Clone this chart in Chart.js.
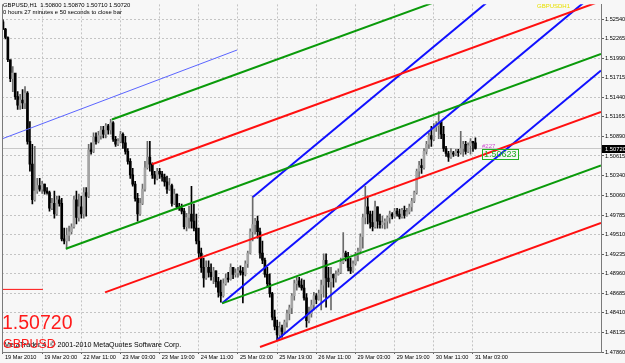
<!DOCTYPE html>
<html lang="en">
<head>
  <meta charset="UTF-8">
  <title>GBPUSD,H1</title>
  <script src="https://cdn.jsdelivr.net/npm/chart.js"></script>
  <style>
    html, body { margin: 0; padding: 0; background: #f7f7f7; }
    #wrap { position: relative; width: 625px; height: 363px; overflow: hidden; background: #f7f7f7; }
    #chart { position: absolute; left: 0; top: 0; }
    .txt { position: absolute; white-space: nowrap; font-family: "Liberation Sans", Arial, sans-serif; line-height: 1; }
    #info1 { left: 3px; top: 3px; font-size: 5.9px; color: #000; }
    #info2 { left: 3px; top: 10px; font-size: 5.9px; color: #000; }
    #bigPrice { left: 2px; top: 313px; font-size: 19.5px; color: #ff1a1a; }
    #symbol { left: 3px; top: 338px; font-size: 12.5px; color: #ff1a1a; }
    #copy { left: 4px; top: 342px; font-size: 7.1px; color: #000; }
    #forkName { left: 537px; top: 3px; font-size: 6px; color: #e8e000; }
    #pinkTag { left: 482px; top: 143px; font-size: 6px; color: #d050d0; }
    #priceTag { left: 482px; top: 149px; font-size: 9px; color: #22b022; border: 1px solid #22b022; padding: 0 1px; }
  </style>
</head>
<body>
<div id="wrap">
  <canvas id="chart" width="625" height="363"></canvas>
  <div class="txt" id="info1">GBPUSD,H1&nbsp; 1.50800 1.50870 1.50710 1.50720</div>
  <div class="txt" id="info2">0 hours 27 minutes e 50 seconds to close bar</div>
  <div class="txt" id="copy">MetaTrader 4, © 2001-2010 MetaQuotes Software Corp.</div>
  <div class="txt" id="bigPrice">1.50720</div>
  <div class="txt" id="symbol">GBPUSD</div>
  <div class="txt" id="forkName">GBPUSDH1</div>
  <div class="txt" id="pinkTag">#227</div>
  <div class="txt" id="priceTag">1.50623</div>
</div>

<script>
  // H1 bars, 19 Mar 2010 04:00 .. 31 Mar 2010 05:00 (x = bar number)
  const firstOpen = 1.5250;
  const highs = [
    1.5253,1.5241,1.5229,1.5196,1.5187,1.5176,1.5152,1.5148,1.5155,1.5159,
    1.5152,1.5110,1.5078,1.5075,1.5030,1.5030,1.5026,1.5022,1.5017,1.5012,
    1.5002,1.5012,1.5005,1.5005,1.5002,1.4960,1.4960,1.4963,1.4966,1.5005,
    1.5012,1.5008,1.5005,1.5017,1.5017,1.5078,1.5080,1.5094,1.5094,1.5096,
    1.5103,1.5103,1.5107,1.5106,1.5113,1.5110,1.5089,1.5086,1.5096,1.5094,
    1.5089,1.5072,1.5058,1.5044,1.5026,1.5009,1.5002,1.5022,1.5054,1.5082,
    1.5082,1.5052,1.5040,1.5044,1.5044,1.5040,1.5036,1.5033,1.5030,1.5022,
    1.5015,1.5008,1.4995,1.4994,1.4988,1.4981,1.4991,1.5019,1.4994,1.4980,
    1.4960,1.4932,1.4918,1.4914,1.4914,1.4910,1.4905,1.4900,1.4891,1.4887,
    1.4889,1.4896,1.4898,1.4910,1.4905,1.4903,1.4905,1.4907,1.4905,1.4914,
    1.4928,1.4959,1.5005,1.4974,1.4977,1.4960,1.4942,1.4918,1.4905,1.4896,
    1.4870,1.4845,1.4831,1.4828,1.4824,1.4831,1.4845,1.4852,1.4868,1.4887,
    1.4891,1.4891,1.4889,1.4887,1.4868,1.4849,1.4859,1.4870,1.4868,1.4873,
    1.4887,1.4924,1.4924,1.4905,1.4905,1.4896,1.4900,1.4903,1.4918,1.4954,
    1.4928,1.4926,1.4918,1.4914,1.4926,1.4932,1.4952,1.4980,1.5019,1.5005,
    1.4984,1.4984,1.4998,1.4990,1.4980,1.4977,1.4973,1.4977,1.4984,1.4982,
    1.4988,1.4988,1.4987,1.4988,1.4991,1.4988,1.4994,1.5002,1.5012,1.5043,
    1.5054,1.5057,1.5072,1.5082,1.5094,1.5103,1.5107,1.5110,1.5124,1.5110,
    1.5103,1.5075,1.5068,1.5072,1.5068,1.5071,1.5071,1.5096,1.5082,1.5082,
    1.5080,1.5086,1.5082,1.5087
  ];
  const lows = [
    1.5239,1.5226,1.5194,1.5166,1.5152,1.5141,1.5127,1.5127,1.5128,1.5128,
    1.5078,1.5040,1.4994,1.4998,1.5009,1.5012,1.5009,1.5008,1.5008,1.4984,
    1.4986,1.4974,1.4978,1.4991,1.4942,1.4938,1.4931,1.4942,1.4952,1.4960,
    1.4966,1.4970,1.4974,1.4974,1.4977,1.5003,1.5064,1.5066,1.5078,1.5080,
    1.5085,1.5087,1.5087,1.5092,1.5092,1.5082,1.5075,1.5076,1.5080,1.5072,
    1.5064,1.5050,1.5030,1.5019,1.4998,1.4970,1.4978,1.4993,1.5012,1.5043,
    1.5040,1.5030,1.5022,1.5028,1.5030,1.5026,1.5019,1.5009,1.5013,1.4991,
    1.4993,1.4987,1.4985,1.4980,1.4959,1.4956,1.4960,1.4960,1.4956,1.4938,
    1.4918,1.4898,1.4877,1.4888,1.4891,1.4887,1.4882,1.4877,1.4863,1.4856,
    1.4863,1.4880,1.4884,1.4887,1.4889,1.4891,1.4891,1.4894,1.4855,1.4893,
    1.4905,1.4924,1.4942,1.4952,1.4946,1.4918,1.4910,1.4891,1.4877,1.4863,
    1.4831,1.4817,1.4803,1.4808,1.4807,1.4813,1.4821,1.4831,1.4840,1.4859,
    1.4873,1.4877,1.4873,1.4859,1.4821,1.4827,1.4835,1.4845,1.4854,1.4859,
    1.4845,1.4863,1.4849,1.4877,1.4845,1.4877,1.4884,1.4894,1.4896,1.4910,
    1.4914,1.4900,1.4896,1.4898,1.4908,1.4914,1.4924,1.4932,1.4966,1.4966,
    1.4960,1.4956,1.4960,1.4960,1.4960,1.4960,1.4959,1.4960,1.4967,1.4973,
    1.4974,1.4977,1.4973,1.4974,1.4974,1.4977,1.4980,1.4984,1.4996,1.5008,
    1.5030,1.5037,1.5043,1.5064,1.5072,1.5075,1.5083,1.5096,1.5086,1.5086,
    1.5068,1.5061,1.5054,1.5058,1.5061,1.5062,1.5061,1.5064,1.5061,1.5064,
    1.5066,1.5064,1.5068,1.5071
  ];
  const closes = [
    1.5240,1.5228,1.5197,1.5170,1.5178,1.5145,1.5133,1.5140,1.5136,1.5150,
    1.5082,1.5050,1.5000,1.5012,1.5020,1.5015,1.5022,1.5012,1.5010,1.4988,
    1.4995,1.4980,1.5000,1.4995,1.4945,1.4942,1.4950,1.4955,1.4962,1.5000,
    1.4975,1.4990,1.4980,1.5010,1.5005,1.5070,1.5068,1.5088,1.5082,1.5090,
    1.5098,1.5092,1.5104,1.5098,1.5108,1.5085,1.5078,1.5082,1.5092,1.5080,
    1.5068,1.5054,1.5035,1.5022,1.5002,1.4980,1.4995,1.5015,1.5045,1.5060,
    1.5050,1.5035,1.5030,1.5040,1.5036,1.5032,1.5025,1.5015,1.5020,1.4995,
    1.5008,1.4990,1.4988,1.4984,1.4962,1.4975,1.4980,1.4970,1.4960,1.4942,
    1.4925,1.4905,1.4890,1.4905,1.4898,1.4892,1.4900,1.4885,1.4870,1.4865,
    1.4882,1.4890,1.4888,1.4905,1.4895,1.4897,1.4900,1.4898,1.4895,1.4910,
    1.4925,1.4955,1.4965,1.4970,1.4955,1.4925,1.4915,1.4895,1.4882,1.4868,
    1.4835,1.4822,1.4810,1.4820,1.4815,1.4828,1.4840,1.4848,1.4865,1.4882,
    1.4886,1.4880,1.4876,1.4862,1.4830,1.4840,1.4852,1.4865,1.4860,1.4868,
    1.4880,1.4915,1.4890,1.4885,1.4895,1.4890,1.4895,1.4898,1.4912,1.4925,
    1.4920,1.4905,1.4900,1.4910,1.4922,1.4928,1.4948,1.4975,1.4990,1.4980,
    1.4968,1.4962,1.4990,1.4970,1.4965,1.4968,1.4970,1.4975,1.4980,1.4977,
    1.4984,1.4980,1.4976,1.4985,1.4978,1.4983,1.4990,1.4998,1.5010,1.5040,
    1.5048,1.5045,1.5068,1.5078,1.5090,1.5085,1.5102,1.5104,1.5110,1.5092,
    1.5072,1.5065,1.5060,1.5066,1.5064,1.5068,1.5066,1.5072,1.5078,1.5068,
    1.5076,1.5082,1.5080,1.5072
  ];
  const bid = 1.50720;

  // axis ticks
  const timeTickBars = [0, 16, 32, 48, 64, 80, 96, 112, 128, 144, 160, 176, 192];
  const timeLabels = ['19 Mar 2010', '19 Mar 20:00', '22 Mar 11:00', '23 Mar 03:00', '23 Mar 19:00',
    '24 Mar 11:00', '25 Mar 03:00', '25 Mar 19:00', '26 Mar 11:00', '29 Mar 03:00',
    '29 Mar 19:00', '30 Mar 11:00', '31 Mar 03:00'];
  const priceTicks = [1.47860, 1.48135, 1.48410, 1.48685, 1.48960, 1.49235, 1.49510, 1.49785,
    1.50060, 1.50340, 1.50615, 1.50890, 1.51165, 1.51440, 1.51715, 1.51990, 1.52265, 1.52540];

  // trend lines: [bar, price] start and end
  const thinBlueLine = [[-0.4, 1.50855], [95.6, 1.52104]];
  const greenFork = [
    [[44.5, 1.51127], [244.3, 1.53628]],
    [[25.7, 1.49312], [244.3, 1.52048]],
    [[89.5, 1.48544], [244.3, 1.50482]]
  ];
  const redFork = [
    [[60.9, 1.50499], [244.3, 1.52793]],
    [[41.7, 1.48698], [244.3, 1.51233]],
    [[105.0, 1.47930], [244.3, 1.49673]]
  ];
  const blueFork = [
    [[102.1, 1.50038], [244.3, 1.54106]],
    [[89.5, 1.48544], [244.3, 1.52973]],
    [[111.9, 1.48028], [244.3, 1.51816]]
  ];
  const redMark = [[-0.4, 1.48740], [16.3, 1.48740]];

  const opens = closes.map((c, i) => i === 0 ? firstOpen : closes[i - 1]);
  const isUp = closes.map((c, i) => c >= opens[i]);

  function lineSet(pts, color, width) {
    return {
      type: 'line',
      data: pts.map(p => ({ x: p[0], y: p[1] })),
      borderColor: color,
      borderWidth: width,
      pointRadius: 0,
      tension: 0,
      clip: 0,
      order: 0
    };
  }

  const datasets = [];
  datasets.push(lineSet(thinBlueLine, '#5a64ff', 1));
  greenFork.forEach(l => datasets.push(lineSet(l, '#0a9a0a', 2)));
  redFork.forEach(l => datasets.push(lineSet(l, '#ff1010', 2)));
  blueFork.forEach(l => datasets.push(lineSet(l, '#1010ff', 2)));
  datasets.push(lineSet(redMark, '#ff1010', 1));

  // bodies
  datasets.push({
    type: 'bar',
    data: closes.map((c, i) => ({ x: i, y: [opens[i], c] })),
    backgroundColor: isUp.map(u => u ? '#a4a4a4' : '#000000'),
    barThickness: 2,
    minBarLength: 1,
    grouped: false,
    borderWidth: 0,
    order: 1
  });
  // wicks
  datasets.push({
    type: 'bar',
    data: highs.map((h, i) => ({ x: i, y: [lows[i], h] })),
    backgroundColor: isUp.map(u => u ? '#6a6a6a' : '#000000'),
    barThickness: 1,
    grouped: false,
    borderWidth: 0,
    order: 2
  });
  // bid line
  const bidLine = lineSet([[-0.4, bid], [244.3, bid]], '#c8c8c8', 1);
  bidLine.order = 3;
  datasets.push(bidLine);

  const framePlugin = {
    id: 'frame',
    afterDraw(chart) {
      const { ctx, chartArea: a, scales: { y } } = chart;
      ctx.save();
      ctx.strokeStyle = '#7a7a7a';
      ctx.lineWidth = 1;
      ctx.beginPath();
      ctx.moveTo(a.left + 0.5, a.top);
      ctx.lineTo(a.left + 0.5, a.bottom);
      ctx.stroke();
      const yb = Math.round(y.getPixelForValue(bid));
      ctx.fillStyle = '#000';
      ctx.fillRect(a.right + 1, yb - 4, 24, 8);
      ctx.fillStyle = '#fff';
      ctx.font = '5.8px "Liberation Sans"';
      ctx.textBaseline = 'middle';
      ctx.fillText(bid.toFixed(5), a.right + 4, yb + 0.5);
      ctx.restore();
    }
  };

  new Chart(document.getElementById('chart'), {
    type: 'bar',
    data: { datasets },
    plugins: [framePlugin],
    options: {
      responsive: false,
      animation: false,
      devicePixelRatio: 1,
      layout: { padding: { left: 2, top: 2, right: 0, bottom: 0 } },
      plugins: { legend: { display: false }, tooltip: { enabled: false } },
      scales: {
        x: {
          type: 'linear',
          min: -0.4,
          max: 244.3,
          offset: false,
          grid: { color: '#c4c4c4', offset: false, tickLength: 2, tickColor: '#606060' },
          border: { color: '#7a7a7a', dash: [2, 2] },
          afterBuildTicks: s => { s.ticks = timeTickBars.map(v => ({ value: v })); },
          afterFit: s => { s.height = 11; },
          ticks: {
            autoSkip: false,
            maxRotation: 0,
            align: 'start',
            labelOffset: 2,
            padding: 0,
            color: '#000',
            font: { family: 'Liberation Sans', size: 5.6 },
            callback: v => timeLabels[timeTickBars.indexOf(v)]
          }
        },
        y: {
          position: 'right',
          min: 1.4786,
          max: 1.52746,
          grid: { color: '#c4c4c4', tickLength: 3, tickColor: '#606060' },
          border: { color: '#7a7a7a', dash: [2, 2] },
          afterBuildTicks: s => { s.ticks = priceTicks.map(v => ({ value: v })); },
          afterFit: s => { s.width = 24; },
          ticks: {
            autoSkip: false,
            padding: 1,
            color: '#000',
            font: { family: 'Liberation Sans', size: 5.6 },
            callback: v => v.toFixed(5)
          }
        }
      }
    }
  });
</script>
</body>
</html>
